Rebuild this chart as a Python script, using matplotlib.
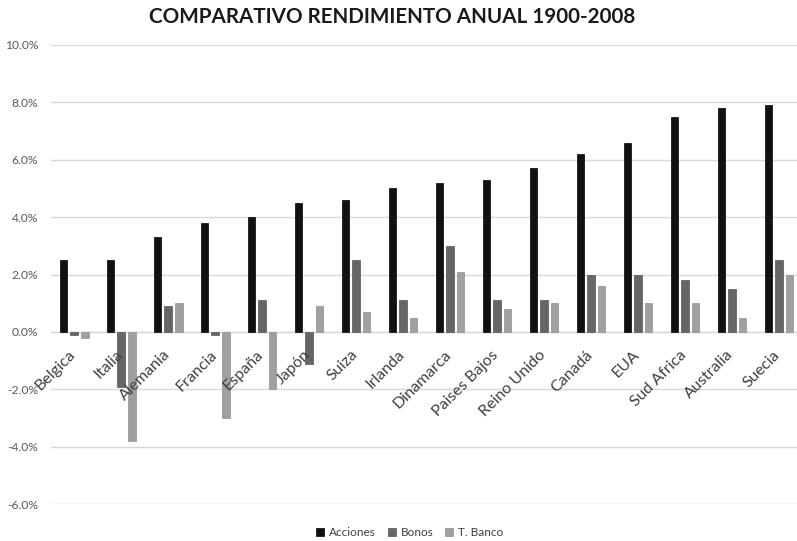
import numpy as np
import matplotlib.pyplot as plt
from matplotlib.ticker import FuncFormatter

plt.rcParams['font.family'] = ['Lato', 'DejaVu Sans']

# datos (rendimiento anual %, 1900-2008)
paises = ['Belgica', 'Italia', 'Alemania', 'Francia', 'España', 'Japón', 'Suiza',
          'Irlanda', 'Dinamarca', 'Paises Bajos', 'Reino Unido', 'Canadá', 'EUA',
          'Sud Africa', 'Australia', 'Suecia']
acciones = [2.5, 2.5, 3.3, 3.8, 4.0, 4.5, 4.6, 5.0, 5.2, 5.3, 5.7, 6.2, 6.6, 7.5, 7.8, 7.9]
bonos = [-0.1, -1.9, 0.9, -0.1, 1.1, -1.1, 2.5, 1.1, 3.0, 1.1, 1.1, 2.0, 2.0, 1.8, 1.5, 2.5]
tbanco = [-0.2, -3.8, 1.0, -3.0, -2.0, 0.9, 0.7, 0.5, 2.1, 0.8, 1.0, 1.6, 1.0, 1.0, 0.5, 2.0]

fig = plt.figure(figsize=(7.97, 5.41), dpi=100)
# el area de trazado se sale un poco por la derecha, como en el original
ax = fig.add_axes([0.0637, 0.068, 0.943, 0.849])

x = np.arange(len(paises))
w = 0.16
d = 0.225
ax.bar(x - d, acciones, w, color='#111111', edgecolor='#000000', lw=0.5, label='Acciones', zorder=3)
ax.bar(x, bonos, w, color='#666666', edgecolor='#555555', lw=0.5, label='Bonos', zorder=3)
ax.bar(x + d, tbanco, w, color='#a0a0a0', edgecolor='#909090', lw=0.5, label='T. Banco', zorder=3)

ax.set_xlim(-0.5, len(paises) - 0.5)
ax.set_ylim(-6, 10)
ax.set_yticks(np.arange(-6, 11, 2))
ax.yaxis.set_major_formatter(FuncFormatter(lambda v, p: '%.1f%%' % v))
ax.tick_params(axis='y', length=0, labelsize=8.7, colors='#595959', pad=9)
ax.set_xticks([])
ax.grid(axis='y', color='#d9d9d9', lw=1, zorder=0)
ax.axhline(0, color='#d9d9d9', lw=1, zorder=1)
for s in ax.spines.values():
    s.set_visible(False)

# etiquetas de categoria sobre la linea del cero
for i, p in enumerate(paises):
    ax.text(i - 0.12, -0.55, p, rotation=45, ha='right', va='top', rotation_mode='anchor',
            fontsize=11.5, color='#404040', zorder=4)

fig.text(0.4925, 0.968, 'COMPARATIVO RENDIMIENTO ANUAL 1900-2008', ha='center', va='center',
         fontsize=14.9, fontweight='bold', color='#1a1a1a')
fig.legend(loc='lower center', bbox_to_anchor=(0.514, -0.014), ncol=3, frameon=False,
           fontsize=8.5, handlelength=0.7, handleheight=0.7, handletextpad=0.4,
           columnspacing=1.0, labelcolor='#404040')

plt.savefig('out.png', dpi=100)
